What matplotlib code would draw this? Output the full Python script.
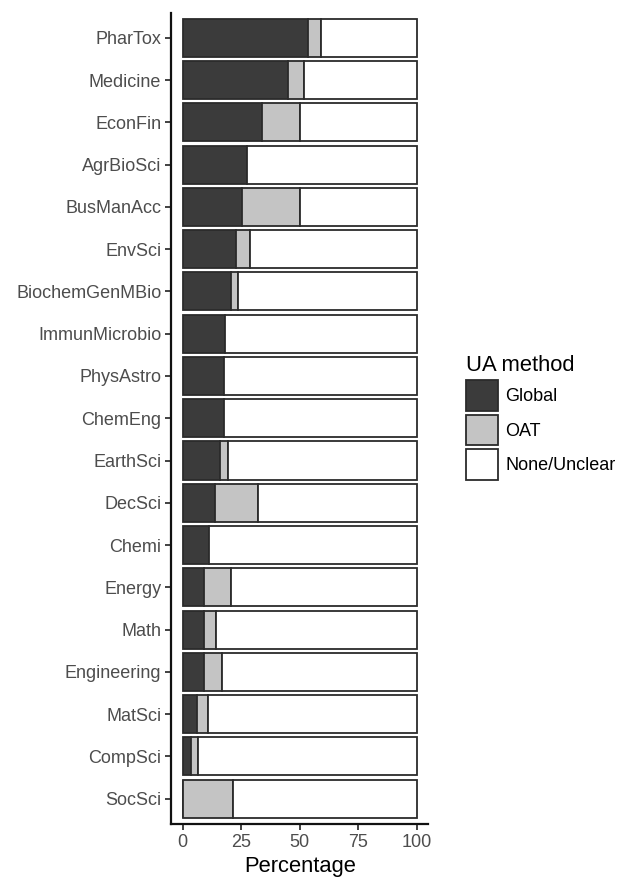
import matplotlib
matplotlib.use('Agg')
import matplotlib.pyplot as plt
from matplotlib.patches import Patch

plt.rcParams['font.family'] = ['Liberation Sans', 'DejaVu Sans']

# categories, top to bottom
fields = ['PharTox', 'Medicine', 'EconFin', 'AgrBioSci', 'BusManAcc', 'EnvSci',
          'BiochemGenMBio', 'ImmunMicrobio', 'PhysAstro', 'ChemEng', 'EarthSci',
          'DecSci', 'Chemi', 'Energy', 'Math', 'Engineering', 'MatSci', 'CompSci',
          'SocSci']
global_pct = [53.7, 44.9, 33.9, 27.6, 25.2, 22.6, 20.5, 18.1, 17.8, 17.8, 16.0,
              14.0, 11.3, 9.3, 9.0, 9.0, 6.0, 3.4, 0.0]
oat_pct = [5.3, 7.0, 16.2, 0.0, 25.1, 6.3, 3.0, 0.0, 0.0, 0.0, 3.4,
           18.3, 0.0, 11.4, 5.4, 7.7, 5.0, 3.3, 21.4]
none_pct = [41.0, 48.1, 49.9, 72.4, 49.7, 71.1, 76.5, 81.9, 82.2, 82.2, 80.6,
            67.7, 88.7, 79.3, 85.6, 83.3, 89.0, 93.3, 78.6]
methods = ['Global', 'OAT', 'None/Unclear']
colors = ['#3b3b3b', '#c4c4c4', '#ffffff']
edge = '#2b2b2b'

fig = plt.figure(figsize=(6.19, 8.77), dpi=100)
ax = fig.add_axes([171 / 619, 53 / 877, 257.4 / 619, 811.5 / 877])

n = len(fields)
ypos = [n - 1 - i for i in range(n)]
left = [0.0] * n
for vals, col in zip([global_pct, oat_pct, none_pct], colors):
    ax.barh(ypos, vals, left=left, height=0.9, color=col, edgecolor=edge, linewidth=1.3)
    left = [l + v for l, v in zip(left, vals)]

ax.set_xlim(-5, 105)
ax.set_ylim(-0.6, n - 0.4)
ax.set_yticks(ypos)
ax.set_yticklabels(fields)
ax.set_xticks([0, 25, 50, 75, 100])
ax.tick_params(axis='both', labelsize=13, labelcolor='#4d4d4d', color='#333333',
               length=4, width=1.3, pad=3)
ax.set_xlabel('Percentage', fontsize=15.8, color='black', labelpad=4)
for s in ['top', 'right']:
    ax.spines[s].set_visible(False)
for s in ['left', 'bottom']:
    ax.spines[s].set_linewidth(1.6)
    ax.spines[s].set_color('#111111')

handles = [Patch(facecolor=c, edgecolor=edge, linewidth=1.3) for c in colors]
leg = fig.legend(handles, methods, loc='upper left', bbox_to_anchor=(466 / 619, 1 - 355 / 877),
                 frameon=False, fontsize=13, title='UA method', title_fontsize=15.8,
                 handlelength=1.78, handleheight=2.24, labelspacing=0.22,
                 handletextpad=0.4, borderpad=0, borderaxespad=0)
leg._legend_box.align = 'left'

fig.savefig('out.png', dpi=100)
